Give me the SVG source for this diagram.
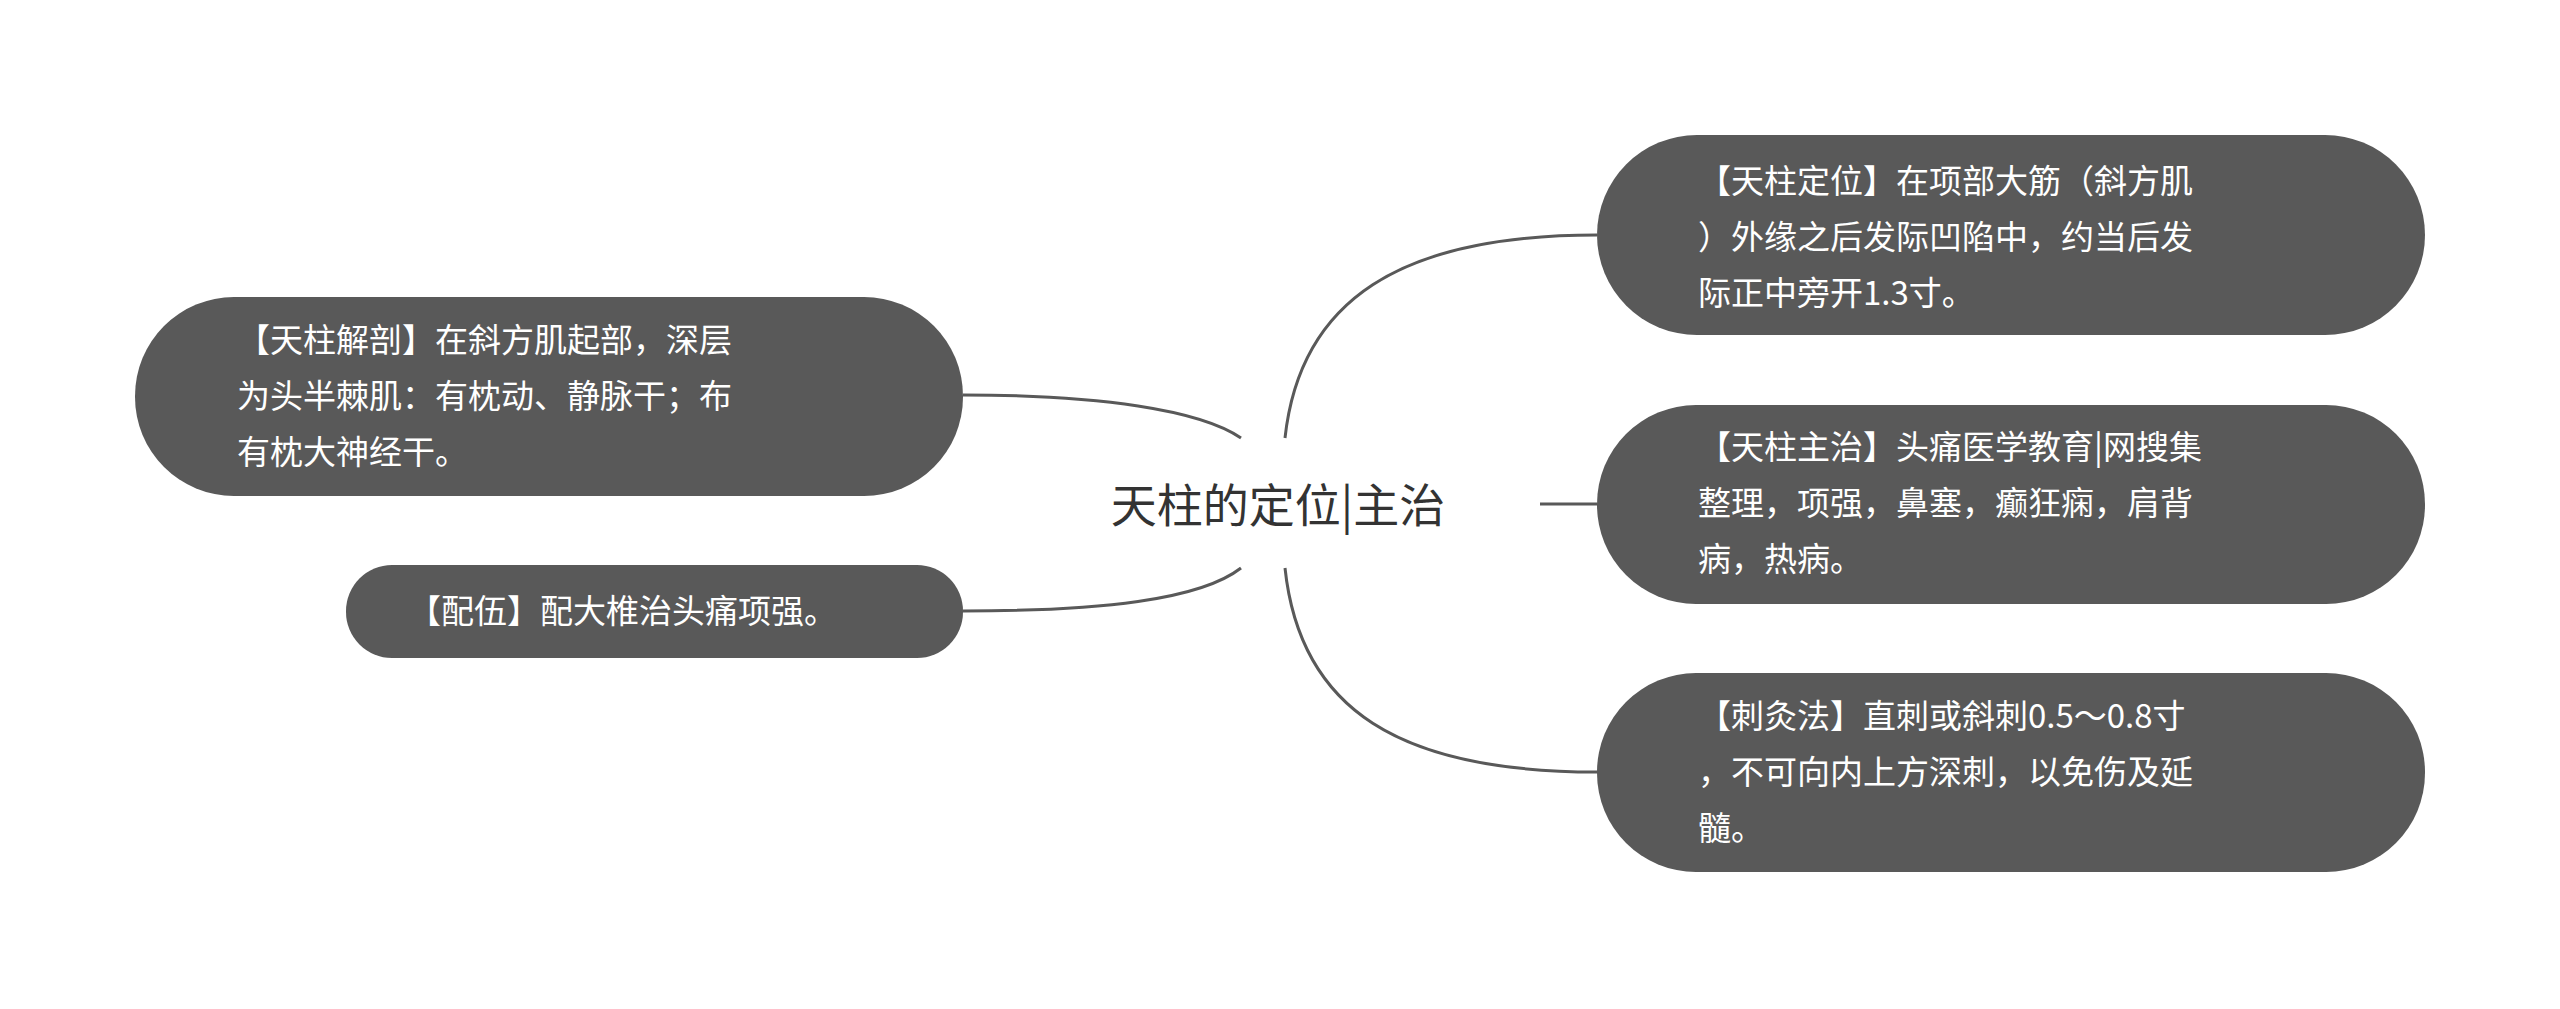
<svg xmlns="http://www.w3.org/2000/svg" width="2560" height="1009" viewBox="0 0 2560 1009">
<style>
.box{fill:#595959}
.t{font-family:"Noto Sans CJK SC","Noto Sans",sans-serif;font-size:33px;fill:#ffffff}
.c{fill:none;stroke:#595959;stroke-width:3}
</style>
<rect width="2560" height="1009" fill="#ffffff"/>
<g id="connectors">
<path class="c" d="M1285,438 C1300,300 1400,235 1597,235"/>
<path class="c" d="M1540,504 L1597,504"/>
<path class="c" d="M1285,568 C1300,710 1400,772 1597,772"/>
<path class="c" d="M1241,438 C1200,410 1100,395 963,395"/>
<path class="c" d="M1241,568 C1200,600 1100,611 963,611"/>
</g>
<g id="center"><text x="1278" y="522" text-anchor="middle" font-family="Noto Sans CJK SC,sans-serif" font-size="46" fill="#333333">天柱的定位|主治</text></g>
<g id="n1"><rect class="box" x="1597" y="135" width="828" height="200" rx="100"/>
<text class="t" x="1698" y="193">【天柱定位】在项部大筋（斜方肌</text>
<text class="t" x="1698" y="249">）外缘之后发际凹陷中，约当后发</text>
<text class="t" x="1698" y="305">际正中旁开1.3寸。</text></g>
<g id="n2"><rect class="box" x="1597" y="405" width="828" height="199" rx="99"/>
<text class="t" x="1698" y="459">【天柱主治】头痛医学教育|网搜集</text>
<text class="t" x="1698" y="515">整理，项强，鼻塞，癫狂痫，肩背</text>
<text class="t" x="1698" y="571">病，热病。</text></g>
<g id="n3"><rect class="box" x="1597" y="673" width="828" height="199" rx="99"/>
<text class="t" x="1698" y="728">【刺灸法】直刺或斜刺0.5～0.8寸</text>
<text class="t" x="1698" y="784">，不可向内上方深刺，以免伤及延</text>
<text class="t" x="1698" y="840">髓。</text></g>
<g id="n4"><rect class="box" x="135" y="297" width="828" height="199" rx="99"/>
<text class="t" x="237" y="352">【天柱解剖】在斜方肌起部，深层</text>
<text class="t" x="237" y="408">为头半棘肌：有枕动、静脉干；布</text>
<text class="t" x="237" y="464">有枕大神经干。</text></g>
<g id="n5"><rect class="box" x="346" y="565" width="617" height="93" rx="46"/>
<text class="t" x="408" y="623">【配伍】配大椎治头痛项强。</text></g>
</svg>
